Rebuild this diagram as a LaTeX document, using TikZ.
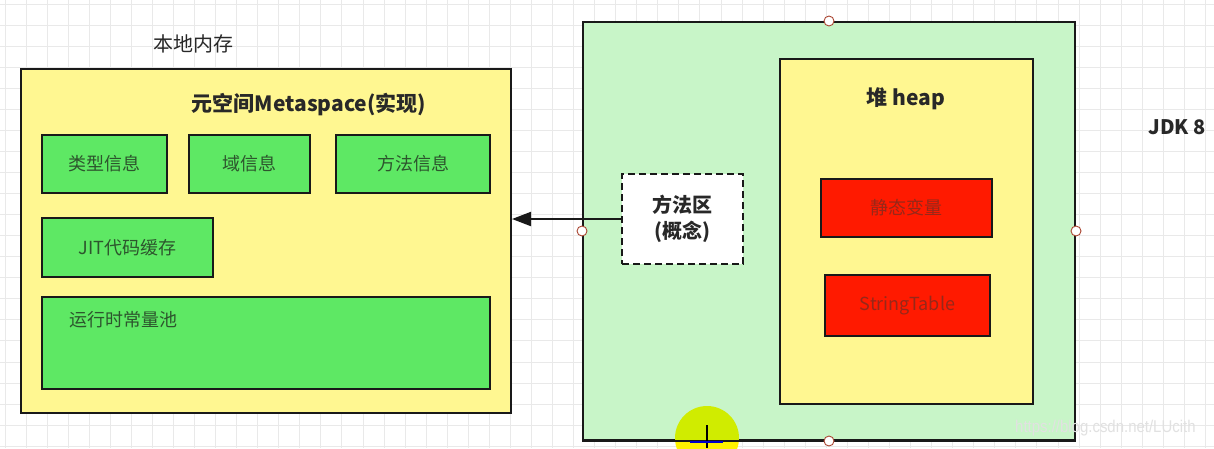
\documentclass[tikz,border=0pt]{standalone}
\usepackage{fontspec}
\setmainfont{Noto Sans CJK SC}
\newfontfamily\wmfont{Liberation Sans}
\usetikzlibrary{arrows.meta}
\definecolor{ylw}{RGB}{255,247,145}
\definecolor{grn}{RGB}{94,232,100}
\definecolor{lgrn}{RGB}{200,245,200}
\definecolor{rd}{RGB}{255,26,0}
\definecolor{gridc}{RGB}{233,233,233}
\definecolor{txt}{RGB}{40,40,40}
\definecolor{gtxt}{RGB}{45,85,45}
\definecolor{rtxt}{RGB}{150,40,25}
\definecolor{hdl}{RGB}{170,70,50}
\definecolor{cursorc}{RGB}{208,236,0}
\definecolor{cursory}{RGB}{255,242,0}
\definecolor{wmc}{RGB}{225,225,225}
\begin{document}
\begin{tikzpicture}[x=1pt,y=-1pt,
  box/.style={draw=black!90,line width=2pt,inner sep=0pt},
  ybox/.style={box,fill=ylw},
  gbox/.style={box,fill=grn,text=gtxt,font=\fontsize{18}{21}\selectfont},
  rbox/.style={box,fill=rd,text=rtxt,font=\fontsize{18}{21}\selectfont},
  lbl/.style={text=txt,inner sep=0pt},
  handle/.style={circle,draw=hdl,fill=white,line width=0.9pt,minimum size=10pt,inner sep=0pt}
]
\fill[white] (0,0) rectangle (1214,448);
\useasboundingbox (0,0) rectangle (1214,448);
% grid
\foreach \i in {0,...,57} \draw[gridc,line width=1pt] ({5+21.06*\i},0) -- ({5+21.06*\i},448);
\foreach \j in {0,...,21} \draw[gridc,line width=1pt] (0,{4+21.06*\j}) -- (1214,{4+21.06*\j});

% left: native memory
\node[lbl,font=\fontsize{20}{23}\selectfont] (nm) at (193,44) {本地内存};
\node[ybox,minimum width=490pt,minimum height=344pt] (meta) at (266,241) {};
\node[lbl,font=\fontsize{21}{24}\selectfont\bfseries] (mt) at (309,105) {元空间Metaspace(实现)};
\node[gbox,minimum width=125pt,minimum height=58pt] (t1) at (104.5,164) {类型信息};
\node[gbox,minimum width=121pt,minimum height=58pt] (t2) at (249.5,164) {域信息};
\node[gbox,minimum width=154pt,minimum height=58pt] (t3) at (413,164) {方法信息};
\node[gbox,minimum width=171pt,minimum height=59pt] (jit) at (127.5,247.5) {JIT代码缓存};
\node[gbox,minimum width=448pt,minimum height=92pt] (pool) at (266,343) {};
\node[lbl,text=gtxt,font=\fontsize{18}{21}\selectfont] (poolt) at (123,320) {运行时常量池};

% right: JDK 8
\node[box,fill=lgrn,minimum width=492pt,minimum height=418pt] (outer) at (829,231) {};
\node[ybox,minimum width=253pt,minimum height=345pt] (heap) at (906.5,231.5) {};
\node[lbl,font=\fontsize{21}{24}\selectfont\bfseries] (ht) at (906,99) {堆 heap};
\node[rbox,minimum width=171pt,minimum height=58pt] (sv) at (906.5,208) {静态变量};
\node[rbox,minimum width=165pt,minimum height=61pt] (st) at (907.5,305.5) {StringTable};
\node[box,dashed,dash pattern=on 7pt off 4pt,fill=white,minimum width=121pt,minimum height=90pt,
      text=txt,align=center,font=\fontsize{20}{26}\selectfont\bfseries] (ma) at (682.5,219) {方法区\\(概念)};
\node[lbl,font=\fontsize{20}{24}\selectfont\bfseries] (jdk) at (1177,127) {JDK 8};

% arrow
\draw[line width=2pt,draw=black!90,-{Triangle[length=19pt,width=14pt]}] (ma.west) -- (meta.east |- ma.west);

% cursor highlight
\begin{scope}
  \clip (600,0) rectangle (800,440);
  \fill[cursorc] (707,438) circle (32);
\end{scope}
\begin{scope}
  \clip (600,440) rectangle (800,448);
  \fill[cursory] (707,438) circle (32);
\end{scope}
\draw[box,draw=black!90] (outer.south west) -- (outer.south east);
\draw[black,line width=1.5pt] (707,425) -- (707,448);
\draw[blue!80!black,line width=2.5pt] (690,442) -- (723,442);

% selection handles
\node[handle] (h1) at (outer.north) {};
\node[handle] (h2) at (outer.south) {};
\node[handle] (h3) at (outer.west) {};
\node[handle] (h4) at (outer.east) {};

% watermark
\node[text=wmc,inner sep=0pt,font=\wmfont\fontsize{17}{20}\selectfont,anchor=west,xscale=0.88] (wm) at (1015,428) {https://blog.csdn.net/LUcith};
\end{tikzpicture}
\end{document}
